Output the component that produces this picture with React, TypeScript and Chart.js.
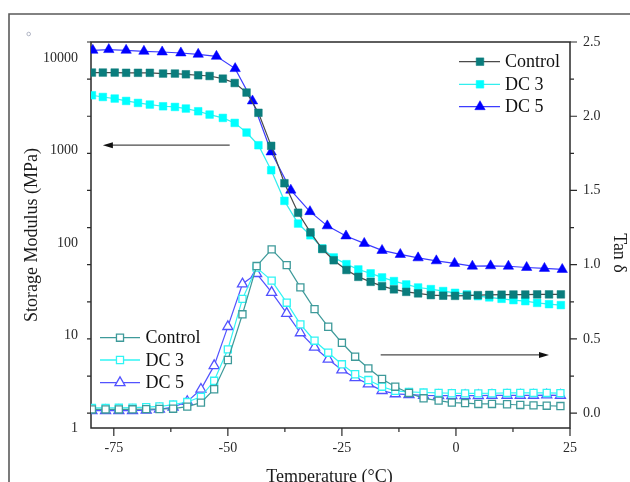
import React, { useEffect, useRef } from 'react';
import { Chart, registerables } from 'chart.js';

Chart.register(...registerables);

// ---------- data ----------
const seriesNames = ['Control', 'DC 3', 'DC 5'];

// storage modulus (MPa), Control and DC 3 share a temperature grid
const modTemps = [
  -79.8, -77.4, -74.8, -72.3, -69.7, -67.1, -64.2, -61.6, -59.2, -56.5,
  -54.0, -51.1, -48.5, -45.9, -43.3, -40.5, -37.6, -34.6, -31.9, -29.3,
  -26.8, -24.0, -21.4, -18.7, -16.2, -13.6, -10.9, -8.3, -5.5, -2.8,
  -0.2, 2.4, 4.8, 7.3, 10.0, 12.6, 15.2, 17.8, 20.4, 23.0,
];
const modControl = [
  6940, 6940, 6940, 6900, 6900, 6900, 6770, 6770, 6650, 6490,
  6370, 5970, 5350, 4220, 2550, 1120, 442, 212, 130, 86,
  65, 51, 43, 38, 34.1, 31.5, 29.6, 28.5, 27.3, 26.9,
  26.8, 27.0, 27.3, 27.5, 27.6, 27.7, 27.7, 27.8, 27.8, 27.8,
];
const modDC3 = [
  3945, 3780, 3635, 3425, 3260, 3130, 3000, 2950, 2835, 2650,
  2440, 2245, 1983, 1560, 1138, 611, 285, 162, 121, 87.3,
  69.7, 59.0, 51.7, 46.9, 42.4, 38.7, 35.6, 33.0, 31.7, 30.2,
  28.9, 27.8, 26.6, 25.8, 24.9, 24.1, 23.5, 22.5, 21.8, 21.3,
];
const dc5ModTemps = [
  -79.6, -76.1, -72.3, -68.4, -64.4, -60.3, -56.5, -52.5, -48.4, -44.6,
  -40.5, -36.2, -32.0, -28.2, -24.1, -20.1, -16.2, -12.2, -8.3, -4.3,
  -0.3, 3.6, 7.6, 11.5, 15.5, 19.4, 23.3,
];
const modDC5 = [
  12080, 12300, 12080, 11780, 11580, 11300, 10940, 10400, 7660, 3425,
  963, 372, 218, 153, 119, 98.9, 83.0, 75.1, 69.0, 64.1,
  60.1, 56.1, 56.6, 56.0, 54.3, 53.1, 51.7,
];

// tan delta, shared temperature grid
const tanTemps = [
  -79.8, -76.8, -73.9, -70.9, -67.9, -65.0, -62.0, -58.9, -55.9, -53.0,
  -50.0, -46.8, -43.7, -40.4, -37.1, -34.1, -31.0, -28.0, -25.0, -22.1,
  -19.2, -16.2, -13.3, -10.3, -7.1, -3.8, -0.9, 2.0, 4.9, 7.9,
  11.2, 14.1, 17.0, 19.9, 22.9,
];
const tanControl = [
  0.025, 0.025, 0.025, 0.026, 0.027, 0.028, 0.030, 0.044, 0.071, 0.161,
  0.358, 0.666, 0.991, 1.103, 0.997, 0.847, 0.701, 0.582, 0.474, 0.380,
  0.302, 0.230, 0.178, 0.136, 0.100, 0.084, 0.071, 0.068, 0.062, 0.062,
  0.060, 0.055, 0.052, 0.050, 0.048,
];
const tanDC3 = [
  0.035, 0.035, 0.036, 0.037, 0.040, 0.045, 0.058, 0.075, 0.110, 0.218,
  0.430, 0.770, 0.980, 0.893, 0.744, 0.598, 0.488, 0.407, 0.329, 0.262,
  0.223, 0.178, 0.150, 0.143, 0.139, 0.136, 0.134, 0.133, 0.133, 0.134,
  0.136, 0.136, 0.136, 0.136, 0.135,
];
const tanDC5 = [
  0.017, 0.017, 0.017, 0.017, 0.020, 0.026, 0.040, 0.078, 0.161, 0.320,
  0.583, 0.870, 0.940, 0.813, 0.672, 0.541, 0.444, 0.363, 0.291, 0.239,
  0.197, 0.152, 0.130, 0.125, 0.120, 0.118, 0.118, 0.118, 0.118, 0.120,
  0.120, 0.120, 0.120, 0.122, 0.120,
];

// axes
const xMajorTicks = [-75, -50, -25, 0, 25];
const xMinorTicks = [-62.5, -37.5, -12.5, 12.5];
const modTickLabels = [1, 10, 100, 1000, 10000];
const tanMajorTicks = [0, 0.5, 1.0, 1.5, 2.0, 2.5];
const tanMinorTicks = [0.25, 0.75, 1.25, 1.75, 2.25];
const leftAxisTicks = [0, 0.25, 0.5, 0.75, 1.0, 1.25, 1.5, 1.75, 2.0, 2.25, 2.5];

// arrows in data units (temperature, tan delta)
const arrowLeft = { x0: -49.6, x1: -77.4, y: 1.805 };
const arrowRight = { x0: -16.5, x1: 20.4, y: 0.392 };

const SERIF = '"Liberation Serif", "Times New Roman", serif';

const zip = (xs: number[], ys: number[]) => xs.map((x, i) => ({ x, y: ys[i] }));

function drawMarker(ctx: CanvasRenderingContext2D, style: string, x: number, y: number, r: number, fill: string, stroke: string, lw: number) {
  ctx.save();
  ctx.beginPath();
  if (style === 'triangle') {
    const a = -Math.PI / 2;
    for (let k = 0; k < 3; k++) {
      const ang = a + (k * 2 * Math.PI) / 3;
      const px = x + Math.cos(ang) * r;
      const py = y + Math.sin(ang) * r;
      if (k === 0) ctx.moveTo(px, py); else ctx.lineTo(px, py);
    }
    ctx.closePath();
  } else {
    const s = Math.SQRT1_2 * r;
    ctx.rect(x - s, y - s, 2 * s, 2 * s);
  }
  ctx.fillStyle = fill;
  ctx.fill();
  if (lw > 0) {
    ctx.lineWidth = lw;
    ctx.strokeStyle = stroke;
    ctx.stroke();
  }
  ctx.restore();
}

const decorPlugin = {
  id: 'decor',
  beforeDraw(chart: any) {
    const ctx = chart.ctx as CanvasRenderingContext2D;
    ctx.save();
    ctx.fillStyle = '#ffffff';
    ctx.fillRect(0, 0, chart.width, chart.height);
    // outer frame
    ctx.strokeStyle = '#5a5a5a';
    ctx.lineWidth = 1.6;
    ctx.beginPath();
    ctx.moveTo(9, 482);
    ctx.lineTo(9, 14);
    ctx.lineTo(630, 14);
    ctx.stroke();
    ctx.strokeStyle = '#a0a4b8';
    ctx.lineWidth = 0.8;
    ctx.beginPath();
    ctx.arc(28.7, 34, 1.8, 0, Math.PI * 2);
    ctx.stroke();
    ctx.restore();
  },
  beforeDatasetsDraw(chart: any) {
    const ctx = chart.ctx as CanvasRenderingContext2D;
    const a = chart.chartArea;
    const xs = chart.scales.x;
    const y2 = chart.scales.y2;
    ctx.save();
    ctx.strokeStyle = '#2a2a2a';
    ctx.lineWidth = 1.5;
    ctx.strokeRect(a.left, a.top, a.right - a.left, a.bottom - a.top);
    ctx.lineWidth = 1.2;
    ctx.beginPath();
    // x ticks (outward, down)
    xMajorTicks.forEach((v) => {
      const px = xs.getPixelForValue(v);
      ctx.moveTo(px, a.bottom);
      ctx.lineTo(px, a.bottom + 8);
    });
    xMinorTicks.forEach((v) => {
      const px = xs.getPixelForValue(v);
      ctx.moveTo(px, a.bottom);
      ctx.lineTo(px, a.bottom + 4);
    });
    // left axis ticks
    leftAxisTicks.forEach((v) => {
      const py = y2.getPixelForValue(v);
      ctx.moveTo(a.left, py);
      ctx.lineTo(a.left - 4, py);
    });
    // right axis ticks
    tanMajorTicks.forEach((v) => {
      const py = y2.getPixelForValue(v);
      ctx.moveTo(a.right, py);
      ctx.lineTo(a.right + 7, py);
    });
    tanMinorTicks.forEach((v) => {
      const py = y2.getPixelForValue(v);
      ctx.moveTo(a.right, py);
      ctx.lineTo(a.right + 4, py);
    });
    ctx.stroke();

    // arrows
    const drawArrow = (ar: { x0: number; x1: number; y: number }) => {
      const px0 = xs.getPixelForValue(ar.x0);
      const px1 = xs.getPixelForValue(ar.x1);
      const py = y2.getPixelForValue(ar.y);
      const dir = px1 > px0 ? 1 : -1;
      ctx.strokeStyle = '#4a4a4a';
      ctx.lineWidth = 1.2;
      ctx.beginPath();
      ctx.moveTo(px0, py);
      ctx.lineTo(px1 - dir * 8, py);
      ctx.stroke();
      ctx.fillStyle = '#111';
      ctx.beginPath();
      ctx.moveTo(px1, py);
      ctx.lineTo(px1 - dir * 10, py - 3);
      ctx.lineTo(px1 - dir * 10, py + 3);
      ctx.closePath();
      ctx.fill();
    };
    drawArrow(arrowLeft);
    drawArrow(arrowRight);
    ctx.restore();
  },
  afterDraw(chart: any) {
    const ctx = chart.ctx as CanvasRenderingContext2D;
    const a = chart.chartArea;
    ctx.save();
    ctx.fillStyle = '#1a1a1a';
    ctx.font = `18px ${SERIF}`;
    // axis titles
    ctx.textAlign = 'center';
    ctx.textBaseline = 'alphabetic';
    ctx.fillText('Temperature (°C)', (a.left + a.right) / 2 - 1, 482);
    ctx.save();
    ctx.translate(32.5, 235);
    ctx.rotate(-Math.PI / 2);
    ctx.textBaseline = 'middle';
    ctx.fillText('Storage Modulus (MPa)', 0, 0);
    ctx.restore();
    ctx.save();
    ctx.translate(619, 253);
    ctx.rotate(Math.PI / 2);
    ctx.textBaseline = 'middle';
    ctx.fillText('Tan δ', 0, 0);
    ctx.restore();

    // legends
    const drawLegend = (idx: number[], lx0: number, lx1: number, mx: number, tx: number, rows: number[]) => {
      idx.forEach((di, k) => {
        const ds = chart.data.datasets[di];
        const y = rows[k];
        ctx.strokeStyle = ds.borderColor;
        ctx.lineWidth = 1.3;
        ctx.beginPath();
        ctx.moveTo(lx0, y);
        ctx.lineTo(lx1, y);
        ctx.stroke();
        drawMarker(ctx, ds.pointStyle, mx, y, ds.pointRadius, ds.pointBackgroundColor, ds.pointBorderColor, ds.pointBorderWidth);
        ctx.fillStyle = '#111';
        ctx.textAlign = 'left';
        ctx.textBaseline = 'middle';
        ctx.font = `18px ${SERIF}`;
        ctx.fillText(ds.label, tx, y + 1);
      });
    };
    drawLegend([0, 1, 2], a.right - 111, a.right - 70, a.right - 90, a.right - 65, [61.7, 84.3, 106.7]);
    drawLegend([3, 4, 5], a.left + 9, a.left + 49, a.left + 29, a.left + 54.5, [337.7, 360, 382.7]);
    ctx.restore();
  },
};

export default function App() {
  const ref = useRef<HTMLCanvasElement | null>(null);

  useEffect(() => {
    if (!ref.current) return;
    const tickFont = { family: SERIF, size: 14 };
    const tickColor = '#2a2a2a';
    const chart = new Chart(ref.current, {
      type: 'line',
      data: {
        datasets: [
          {
            label: seriesNames[0], yAxisID: 'y', data: zip(modTemps, modControl),
            borderColor: '#4a4a4a', borderWidth: 1.2, pointStyle: 'rect', pointRadius: 5.4,
            pointBackgroundColor: '#0a7d7d', pointBorderColor: '#0a7d7d', pointBorderWidth: 0.5,
          },
          {
            label: seriesNames[1], yAxisID: 'y', data: zip(modTemps, modDC3),
            borderColor: '#33eeee', borderWidth: 1.2, pointStyle: 'rect', pointRadius: 5.4,
            pointBackgroundColor: '#00ffff', pointBorderColor: '#00ffff', pointBorderWidth: 0.5,
          },
          {
            label: seriesNames[2], yAxisID: 'y', data: zip(dc5ModTemps, modDC5),
            borderColor: '#3c3cff', borderWidth: 1.2, pointStyle: 'triangle', pointRadius: 6,
            pointBackgroundColor: '#0000ff', pointBorderColor: '#0000ff', pointBorderWidth: 0.5,
          },
          {
            label: seriesNames[0], yAxisID: 'y2', data: zip(tanTemps, tanControl),
            borderColor: '#3e9a9a', borderWidth: 1.2, pointStyle: 'rect', pointRadius: 5,
            pointBackgroundColor: '#ffffff', pointBorderColor: '#3e9a9a', pointBorderWidth: 1.3,
          },
          {
            label: seriesNames[1], yAxisID: 'y2', data: zip(tanTemps, tanDC3),
            borderColor: '#30f4f4', borderWidth: 1.2, pointStyle: 'rect', pointRadius: 5,
            pointBackgroundColor: '#ffffff', pointBorderColor: '#30f4f4', pointBorderWidth: 1.3,
          },
          {
            label: seriesNames[2], yAxisID: 'y2', data: zip(tanTemps, tanDC5),
            borderColor: '#5252ff', borderWidth: 1.2, pointStyle: 'triangle', pointRadius: 5.8,
            pointBackgroundColor: '#ffffff', pointBorderColor: '#5252ff', pointBorderWidth: 1.3,
          },
        ] as any,
      },
      options: {
        responsive: false,
        animation: false,
        devicePixelRatio: 1,
        layout: { padding: { top: 42, left: 0, right: 0, bottom: 0 } },
        plugins: { legend: { display: false }, tooltip: { enabled: false } },
        elements: { line: { tension: 0 } },
        scales: {
          x: {
            type: 'linear', position: 'bottom', min: -80, max: 25,
            grid: { display: false, drawTicks: false }, border: { display: false },
            ticks: { font: tickFont, color: tickColor, padding: 12, maxRotation: 0, autoSkip: false, callback: (v: any) => String(v) },
            afterBuildTicks: (s: any) => { s.ticks = xMajorTicks.map((v) => ({ value: v })); },
            afterFit: (s: any) => { s.height = 54; },
          },
          y: {
            type: 'logarithmic', position: 'left', min: 1, max: 14850,
            grid: { display: false, drawTicks: false }, border: { display: false },
            ticks: { font: tickFont, color: tickColor, padding: 13, autoSkip: false, callback: (v: any) => String(v) },
            afterBuildTicks: (s: any) => { s.ticks = modTickLabels.map((v) => ({ value: v })); },
            afterFit: (s: any) => { s.width = 91; },
          },
          y2: {
            type: 'linear', position: 'right', min: -0.1, max: 2.5,
            grid: { display: false, drawTicks: false }, border: { display: false },
            ticks: { font: tickFont, color: tickColor, padding: 13, autoSkip: false, callback: (v: any) => Number(v).toFixed(1) },
            afterBuildTicks: (s: any) => { s.ticks = tanMajorTicks.map((v) => ({ value: v })); },
            afterFit: (s: any) => { s.width = 60; },
          },
        },
      } as any,
      plugins: [decorPlugin],
    });
    return () => chart.destroy();
  }, []);

  return (
    <div style={{ position: 'fixed', left: 0, top: 0, width: 630, height: 482, background: '#fff' }}>
      <canvas ref={ref} width={630} height={482} style={{ display: 'block', width: 630, height: 482 }} />
    </div>
  );
}
